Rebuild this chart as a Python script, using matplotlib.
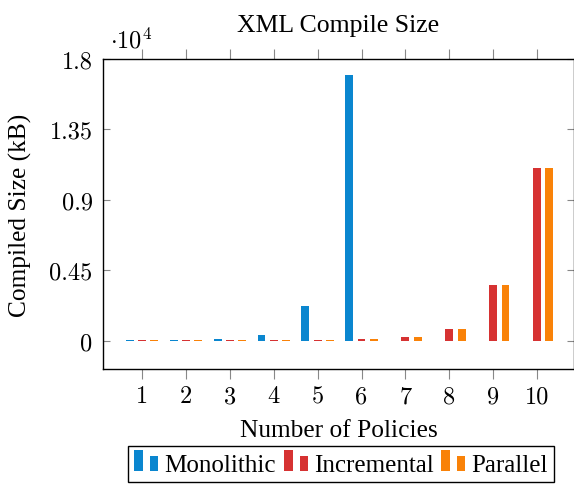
import matplotlib
matplotlib.use("Agg")
import matplotlib.pyplot as plt
import numpy as np
from matplotlib.patches import Rectangle
from matplotlib.container import BarContainer
from matplotlib.legend_handler import HandlerBase

plt.rcParams['mathtext.fontset'] = 'cm'

# data
policies = [1, 2, 3, 4, 5, 6, 7, 8, 9, 10]
mono_x = [1, 2, 3, 4, 5, 6]
monolithic = [30, 40, 80, 340, 2240, 16960]
incremental = [25, 30, 35, 40, 60, 110, 260, 770, 3540, 11010]
parallel = [25, 30, 35, 40, 60, 110, 260, 770, 3540, 11010]
ytick_vals = [0, 4500, 9000, 13500, 18000]
ytick_labels = ['0', '0.45', '0.9', '1.35', '1.8']

c_blue = '#0A86CF'
c_red = '#D63232'
c_orange = '#F98208'


class BarIcon(HandlerBase):
    # pgfplots style ybar legend image: two bars of different heights
    def create_artists(self, legend, orig_handle, xdescent, ydescent,
                       width, height, fontsize, trans):
        col = orig_handle.patches[0].get_facecolor()
        r1 = Rectangle((-xdescent, 0), 6.5, 15, facecolor=col,
                       edgecolor='none', transform=trans)
        r2 = Rectangle((-xdescent + 11.5, 0), 5.8, 10.8, facecolor=col,
                       edgecolor='none', transform=trans)
        return [r1, r2]


fig = plt.figure(figsize=(5.74, 4.85), dpi=100)
ax = fig.add_axes([103 / 574, 1 - 370 / 485, 471 / 574, 310 / 485])

off = 0.28
w = 0.18
b1 = ax.bar(np.array(mono_x) - off, monolithic, w, color=c_blue, label='Monolithic')
b2 = ax.bar(np.array(policies), incremental, w, color=c_red, label='Incremental')
b3 = ax.bar(np.array(policies) + off, parallel, w, color=c_orange, label='Parallel')

ax.set_xlim(0.11, 10.84)
ax.set_ylim(-1811, 18000)
ax.set_xticks(policies)
ax.set_xticklabels([str(p) for p in policies], fontfamily='cmr10', fontsize=17.5)
ax.set_yticks(ytick_vals)
ax.set_yticklabels(ytick_labels, fontfamily='cmr10', fontsize=17.5)

ax.tick_params(axis='x', direction='out', length=7.5, color='#888888',
               top=True, bottom=True, pad=4)
ax.tick_params(axis='y', direction='in', length=5, color='#888888',
               left=True, right=True, pad=7.5)
for s in ax.spines.values():
    s.set_linewidth(1.0)
    s.set_color('black')

ax.set_title('XML Compile Size', family='Liberation Serif', fontsize=18.5,
             y=1 + 28.3 / 310, pad=0, va='baseline')
ax.set_xlabel('Number of Policies', family='Liberation Serif', fontsize=18.3, va='center')
ax.xaxis.set_label_coords(0.5, -(431 - 370) / 310)
ax.set_ylabel('Compiled Size (kB)', family='Liberation Serif', fontsize=18.3, va='center')
ax.yaxis.set_label_coords(-(103 - 20) / 471, 0.5)

fig.text(110 / 574, 1 - 48 / 485, r'$\cdot 10^{4}$', fontsize=17.5)

leg = fig.legend(handles=[b1, b2, b3], ncol=3, loc='upper center',
                 bbox_to_anchor=(341 / 574, 1 - 447 / 485),
                 handler_map={BarContainer: BarIcon()},
                 prop={'family': 'Liberation Serif', 'size': 18},
                 handlelength=0.96, handleheight=0.9, handletextpad=0.24,
                 columnspacing=0.32, borderpad=0.24, borderaxespad=0,
                 fancybox=False, edgecolor='black', framealpha=1)
leg.get_frame().set_linewidth(1.0)

fig.savefig('out.png', dpi=100)
